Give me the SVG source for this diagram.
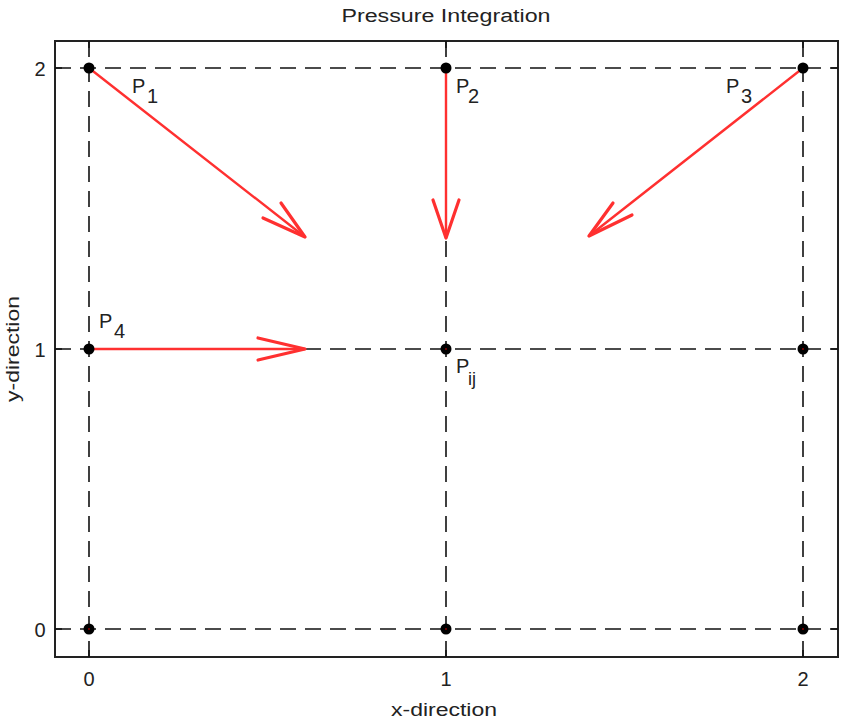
<svg xmlns="http://www.w3.org/2000/svg" width="843" height="722" viewBox="0 0 843 722">
<style>
.grid{stroke:#111;stroke-width:1.6;stroke-dasharray:16 9;fill:none}
.axis{stroke:#222;stroke-width:2;fill:none}
.tick{stroke:#222;stroke-width:1.6}
.arrow{stroke:#ff3030;stroke-width:2.4;fill:none;stroke-linecap:round;stroke-linejoin:round}
.head{stroke-width:3.2}
.dot{fill:#000}
.ctr{fill:#e00}
text{font-family:"Liberation Sans",Arial,sans-serif;fill:#222}
.lbl{font-size:20px}
.tk{font-size:20px;text-anchor:middle}
</style>
<rect width="843" height="722" fill="#fff"/>
<g id="axes">
<rect class="axis" x="55" y="41" width="783" height="616"/>
<g class="tick">
<line x1="89" y1="41" x2="89" y2="48"/><line x1="446" y1="41" x2="446" y2="48"/><line x1="803" y1="41" x2="803" y2="48"/>
<line x1="89" y1="650" x2="89" y2="657"/><line x1="446" y1="650" x2="446" y2="657"/><line x1="803" y1="650" x2="803" y2="657"/>
<line x1="55" y1="68" x2="62" y2="68"/><line x1="55" y1="349" x2="62" y2="349"/><line x1="55" y1="629" x2="62" y2="629"/>
<line x1="831" y1="68" x2="838" y2="68"/><line x1="831" y1="349" x2="838" y2="349"/><line x1="831" y1="629" x2="838" y2="629"/>
</g>
<text class="tk" x="89" y="686">0</text>
<text class="tk" x="446" y="686">1</text>
<text class="tk" x="803" y="686">2</text>
<text class="tk" x="40" y="637">0</text>
<text class="tk" x="40" y="357">1</text>
<text class="tk" x="40" y="76">2</text>
<text x="446" y="22" font-size="18" text-anchor="middle" textLength="209" lengthAdjust="spacingAndGlyphs">Pressure Integration</text>
<text x="444" y="716" font-size="18" text-anchor="middle" textLength="106" lengthAdjust="spacingAndGlyphs">x-direction</text>
<text transform="translate(19,349) rotate(-90)" font-size="18" text-anchor="middle" textLength="106" lengthAdjust="spacingAndGlyphs">y-direction</text>
</g>
<g id="grid">
<line class="grid" x1="55" y1="68" x2="838" y2="68"/>
<line class="grid" x1="55" y1="349" x2="838" y2="349"/>
<line class="grid" x1="55" y1="629" x2="838" y2="629"/>
<line class="grid" x1="89" y1="41" x2="89" y2="657"/>
<line class="grid" x1="446" y1="41" x2="446" y2="657"/>
<line class="grid" x1="803" y1="41" x2="803" y2="657"/>
</g>
<g id="connectors">
<g id="arrow-p1"><line class="arrow" x1="89" y1="68" x2="305" y2="237"/><polyline class="arrow head" points="281,203 305,237 263,218"/></g>
<g id="arrow-p2"><line class="arrow" x1="446" y1="68" x2="446" y2="238"/><polyline class="arrow head" points="433,200 446,238 459,200"/></g>
<g id="arrow-p3"><line class="arrow" x1="803" y1="68" x2="589" y2="236"/><polyline class="arrow head" points="613,203 589,236 632,215"/></g>
<g id="arrow-p4"><line class="arrow" x1="89" y1="349" x2="305" y2="349"/><polyline class="arrow head" points="258,338 305,349 258,360"/></g>
</g>
<g id="nodes">
<g id="n00"><circle class="dot" cx="89" cy="68" r="5.5"/></g>
<g id="n10"><circle class="dot" cx="446" cy="68" r="5.5"/></g>
<g id="n20"><circle class="dot" cx="803" cy="68" r="5.5"/></g>
<g id="n01"><circle class="dot" cx="89" cy="349" r="5.5"/></g>
<g id="n11"><circle class="dot" cx="446" cy="349" r="5.5"/><circle class="ctr" cx="446" cy="349" r="0.8"/></g>
<g id="n21"><circle class="dot" cx="803" cy="349" r="5.5"/><circle class="ctr" cx="803" cy="349" r="0.8"/></g>
<g id="n02"><circle class="dot" cx="89" cy="629" r="5.5"/><circle class="ctr" cx="89" cy="629" r="0.8"/></g>
<g id="n12"><circle class="dot" cx="446" cy="629" r="5.5"/><circle class="ctr" cx="446" cy="629" r="0.8"/></g>
<g id="n22"><circle class="dot" cx="803" cy="629" r="5.5"/><circle class="ctr" cx="803" cy="629" r="0.8"/></g>
</g>
<g id="labels">
<text class="lbl" x="132" y="93">P<tspan x="147" y="103">1</tspan></text>
<text class="lbl" x="456" y="93">P<tspan x="468" y="103">2</tspan></text>
<text class="lbl" x="726" y="93">P<tspan x="741" y="103">3</tspan></text>
<text class="lbl" x="99" y="328">P<tspan x="114" y="338">4</tspan></text>
<text class="lbl" x="456" y="373">P<tspan x="468" y="385" font-size="18">ij</tspan></text>
</g>
</svg>
